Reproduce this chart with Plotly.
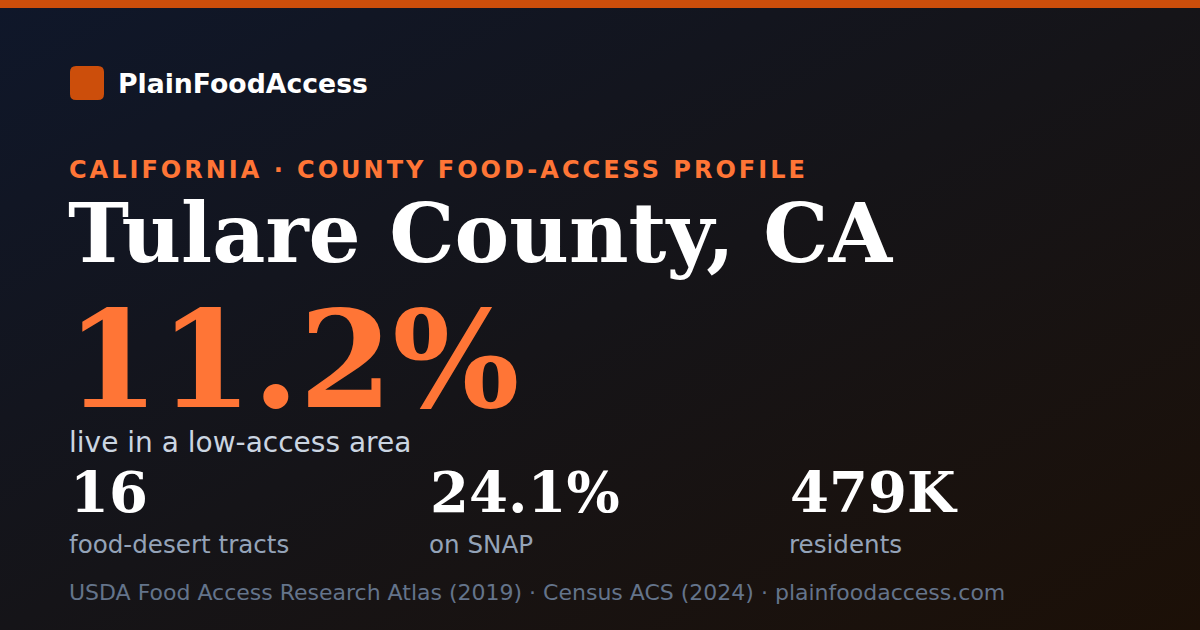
#!/usr/bin/env python3
"""
Social card: county food-access profile (Tulare County, CA).
"""

import base64

import plotly.graph_objects as go

W, H = 1200, 630

BRAND = "PlainFoodAccess"
KICKER = "CALIFORNIA · COUNTY FOOD-ACCESS PROFILE"
COUNTY = "Tulare County, CA"
HEADLINE_VALUE = "11.2%"
HEADLINE_LABEL = "live in a low-access area"
STAT_VALUES = ["16", "24.1%", "479K"]
STAT_LABELS = ["food-desert tracts", "on SNAP", "residents"]
FOOTER = "USDA Food Access Research Atlas (2019) · Census ACS (2024) · plainfoodaccess.com"

ORANGE = "#ff7536"
ORANGE_DARK = "#cc4e0b"
SANS = "DejaVu Sans"
SERIF = "DejaVu Serif"

# background gradient as an inline svg, top-left navy to bottom-right brown
bg_svg = f"""<svg xmlns='http://www.w3.org/2000/svg' width='{W}' height='{H}'>
<defs><linearGradient id='g' x1='0' y1='0' x2='1' y2='1'>
<stop offset='0' stop-color='#0f172a'/>
<stop offset='0.5' stop-color='#151418'/>
<stop offset='1' stop-color='#1c1007'/>
</linearGradient></defs>
<rect width='{W}' height='{H}' fill='url(#g)'/>
</svg>"""
bg_uri = "data:image/svg+xml;base64," + base64.b64encode(bg_svg.encode()).decode()

fig = go.Figure()


def add_text(x, y, text, size, color, family=SANS, bold=False):
    fig.add_annotation(
        x=x, y=y, xref="x", yref="y",
        text=text, showarrow=False,
        xanchor="left", yanchor="middle",
        align="left",
        font=dict(family=family, size=size, color=color,
                  weight="bold" if bold else "normal"),
    )


# top bar, logo square and divider
fig.add_shape(type="rect", x0=0, x1=W, y0=0, y1=8, line_width=0,
              fillcolor=ORANGE_DARK, layer="above")
fig.add_shape(type="path",
              path="M 76 66 L 98 66 Q 104 66 104 72 L 104 94 Q 104 100 98 100 "
                   "L 76 100 Q 70 100 70 94 L 70 72 Q 70 66 76 66 Z",
              line_width=0, fillcolor=ORANGE_DARK, layer="above")
fig.add_shape(type="line", x0=70, x1=1130, y0=475.5, y1=475.5,
              line=dict(color="rgba(148,163,184,0.18)", width=2), layer="below")

add_text(116, 83, BRAND, 26.7, "#ffffff", bold=True)
add_text(67, 170,
         f"<span style='letter-spacing:3px'>{KICKER}</span>",
         24, ORANGE, bold=True)
add_text(66, 233, COUNTY, 82, "#ffffff", family=SERIF, bold=True)
add_text(64, 360, HEADLINE_VALUE, 134, ORANGE, family=SERIF, bold=True)
add_text(67, 442, HEADLINE_LABEL, 28, "#cbd5e1")

stat_x = [70, 430, 790]
for x, val, lab in zip(stat_x, STAT_VALUES, STAT_LABELS):
    add_text(x - 2, 492, val, 56, "#ffffff", family=SERIF, bold=True)
    add_text(x - 3, 544, lab, 24.6, "#94a3b8")

add_text(67, 592, FOOTER, 22, "#64748b")

fig.add_layout_image(
    source=bg_uri, xref="x", yref="y", x=0, y=0,
    sizex=W, sizey=H, xanchor="left", yanchor="top",
    sizing="stretch", layer="below",
)

fig.update_xaxes(range=[0, W], visible=False, fixedrange=True)
fig.update_yaxes(range=[H, 0], visible=False, fixedrange=True)
fig.update_layout(
    width=W, height=H,
    margin=dict(l=0, r=0, t=0, b=0),
    paper_bgcolor="#121520",
    plot_bgcolor="rgba(0,0,0,0)",
    showlegend=False,
)

# drop the page's default body margin so the card sits at the window's corner
fig.write_html(
    "out.html",
    config={"displayModeBar": False},
    post_script="document.body.style.margin='0';",
)
